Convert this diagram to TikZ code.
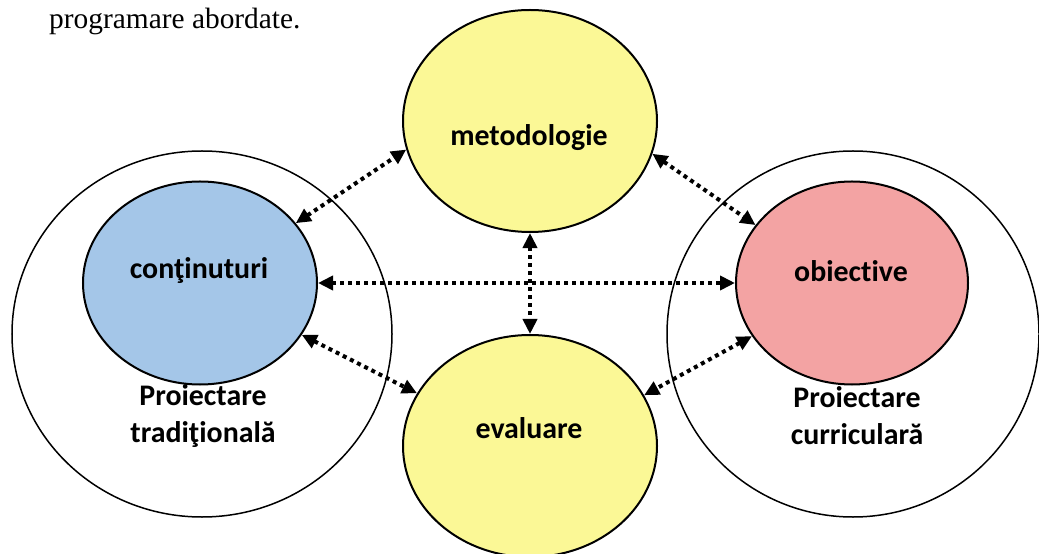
\documentclass[tikz,border=0pt]{standalone}
\usepackage{fontspec}
\setmainfont{Liberation Serif}
\newfontfamily\labelfont[Ligatures=NoCommon]{Carlito}
\usetikzlibrary{arrows.meta,shapes.geometric}
\definecolor{contfill}{HTML}{A4C6E8}
\definecolor{objfill}{HTML}{F3A3A3}
\definecolor{yelfill}{HTML}{FBF896}
\begin{document}
\begin{tikzpicture}[x=1bp,y=-1bp,
  oval/.style={ellipse,draw=black,inner sep=0pt,line width=2bp},
  bigoval/.style={ellipse,draw=black,inner sep=0pt,line width=1.5bp},
  lbl/.style={font=\labelfont\bfseries\fontsize{30}{37}\selectfont,align=center,inner sep=0pt},
  link/.style={line width=4bp,dash pattern=on 4bp off 4bp,
    {Triangle[length=15bp,width=14bp]}-{Triangle[length=15bp,width=14bp]}}]
\useasboundingbox (0,0) rectangle (1039,554);

% heading fragment
\node[anchor=base west,inner sep=0pt,font=\fontsize{29.5}{34}\selectfont] (head) at (49,29) {programare abordate.};

% the two design approaches
\node[bigoval,minimum width=380bp,minimum height=366bp] (trad) at (202,334) {};
\node[bigoval,minimum width=372bp,minimum height=366bp] (curr) at (853,334) {};

% components
\node[oval,fill=contfill,minimum width=234bp,minimum height=203bp] (cont) at (200,283) {};
\node[oval,fill=objfill,minimum width=232bp,minimum height=203bp] (obj) at (852,283) {};
\node[oval,fill=yelfill,minimum width=254bp,minimum height=222bp] (met) at (530,121) {};
\node[oval,fill=yelfill,minimum width=254bp,minimum height=222bp] (eval) at (530,446) {};

% labels
\node[lbl] (tcont) at (199,271) {conţinuturi};
\node[lbl] (tobj) at (851,271) {obiective};
\node[lbl] (tmet) at (529,138) {metodologie};
\node[lbl] (teval) at (529,428) {evaluare};
\node[lbl] (ttrad) at (203,416) {Proiectare\\tradiţională};
\node[lbl] (tcurr) at (857,416) {Proiectare\\curriculară};

% relations
\draw[link] (cont.32) -- (met.193);
\draw[link] (met.-15) -- (obj.149);
\draw[link] (cont.0) -- (obj.180);
\draw[link] (met.-90) -- (eval.90);
\draw[link] (cont.-27.5) -- (eval.155.7);
\draw[link] (obj.208) -- (eval.24.3);
\end{tikzpicture}
\end{document}
